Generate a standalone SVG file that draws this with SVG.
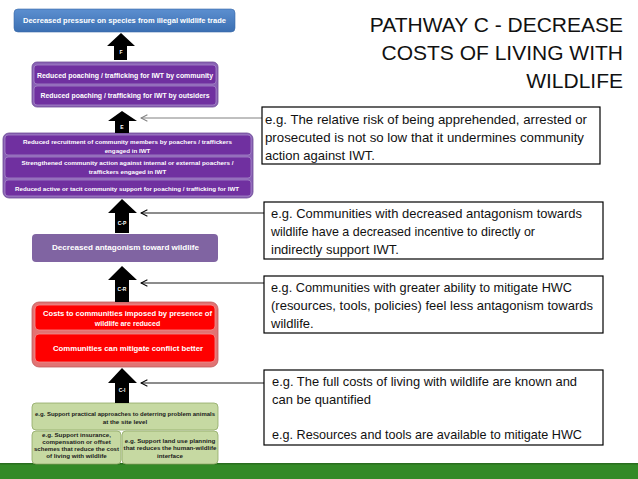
<svg xmlns="http://www.w3.org/2000/svg" width="638" height="479" viewBox="0 0 638 479">
<defs>
<linearGradient id="gBlue" x1="0" y1="0" x2="0" y2="1"><stop offset="0" stop-color="#5C8FD0"/><stop offset="1" stop-color="#3B6FB2"/></linearGradient>
<marker id="chevB" viewBox="0 0 10 10" refX="1" refY="5" markerWidth="8" markerHeight="8" markerUnits="userSpaceOnUse" orient="0"><path d="M9,1 L1,5 L9,9" fill="none" stroke="#000" stroke-width="1.3"/></marker>
<marker id="chevG" viewBox="0 0 10 10" refX="1" refY="5" markerWidth="8" markerHeight="8" markerUnits="userSpaceOnUse" orient="0"><path d="M9,1 L1,5 L9,9" fill="none" stroke="#808080" stroke-width="1.3"/></marker>
</defs>
<style>
.t{font-family:"Liberation Sans",Arial,sans-serif;font-weight:bold;fill:#fff;text-anchor:middle}
.g{font-family:"Liberation Sans",Arial,sans-serif;font-weight:bold;fill:#1a1a1a;text-anchor:middle;font-size:6.2px}
.note{font-family:"Liberation Sans",Arial,sans-serif;font-size:13px;fill:#111}
.nb{fill:#fff;stroke:#000;stroke-width:1.2}
.arr{fill:#000}
.al{font-family:"Liberation Sans",Arial,sans-serif;font-weight:bold;fill:#fff;font-size:5px;text-anchor:middle}
.pin{fill:#7030A0;stroke:#A585C8;stroke-width:0.8}
.rin{fill:#FF0000;stroke:#F39090;stroke-width:0.8}
.grn{fill:#C6D9A2;stroke:#8FA866;stroke-width:0.8}
.title{font-family:"Liberation Sans",Arial,sans-serif;font-size:21px;fill:#111;text-anchor:end}
</style>
<rect x="0" y="0" width="638" height="479" fill="#fff"/>
<rect x="0" y="463" width="638" height="16" fill="#348A27"/>
<rect x="0" y="463" width="638" height="1.5" fill="#2A6E1F"/>

<g id="title">
<text class="title" x="623" y="32">PATHWAY C - DECREASE</text>
<text class="title" x="623" y="60">COSTS OF LIVING WITH</text>
<text class="title" x="623" y="88">WILDLIFE</text>
</g>

<g id="goal">
<rect x="14" y="9" width="221" height="23" rx="4" fill="url(#gBlue)" stroke="#3A6AA8" stroke-width="0.6"/>
<text class="t" x="124.5" y="23" font-size="7.6" textLength="203" lengthAdjust="spacingAndGlyphs">Decreased pressure on species from illegal wildlife trade</text>
</g>

<g id="poaching">
<rect x="32" y="62" width="186" height="45" rx="5" fill="#8A63B5" stroke="#6C4A96" stroke-width="0.8"/>
<rect x="34" y="65" width="182" height="19" rx="3" class="pin"/>
<rect x="34" y="86" width="182" height="19" rx="3" class="pin"/>
<text class="t" x="125" y="77.5" font-size="7" textLength="176" lengthAdjust="spacingAndGlyphs">Reduced poaching  / trafficking for IWT by community</text>
<text class="t" x="125" y="98" font-size="7" textLength="169" lengthAdjust="spacingAndGlyphs">Reduced poaching  / trafficking for IWT by outsiders</text>
</g>

<g id="community">
<rect x="3" y="133" width="250" height="65" rx="6" fill="#8A63B5" stroke="#6C4A96" stroke-width="0.8"/>
<rect x="5" y="135" width="246" height="20" rx="3" class="pin"/>
<rect x="5" y="157" width="246" height="21" rx="3" class="pin"/>
<rect x="5" y="180" width="246" height="16" rx="3" class="pin"/>
<text class="t" x="127.5" y="144" font-size="6.2" textLength="209" lengthAdjust="spacingAndGlyphs">Reduced recruitment of community members by poachers / traffickers</text>
<text class="t" x="127.5" y="153" font-size="6.2">engaged in IWT</text>
<text class="t" x="127.5" y="165" font-size="6.2" textLength="212" lengthAdjust="spacingAndGlyphs">Strengthened community action against internal or external poachers /</text>
<text class="t" x="127.5" y="174" font-size="6.2">traffickers engaged in IWT</text>
<text class="t" x="127" y="190.5" font-size="6.2" textLength="224" lengthAdjust="spacingAndGlyphs">Reduced active or tacit community support for poaching / trafficking for IWT</text>
</g>

<g id="antagonism">
<rect x="32" y="234" width="186" height="28" rx="4" fill="#8064A2"/>
<text class="t" x="125.5" y="250" font-size="7.4" textLength="147" lengthAdjust="spacingAndGlyphs">Decreased antagonism toward wildlife</text>
</g>

<g id="costs">
<rect x="32" y="302" width="186" height="65" rx="7" fill="#E27373" stroke="#C05A5A" stroke-width="0.8"/>
<rect x="35" y="305" width="180" height="25" rx="4" class="rin"/>
<rect x="35" y="334" width="180" height="28" rx="4" class="rin"/>
<text class="t" x="127.5" y="316" font-size="7" textLength="169" lengthAdjust="spacingAndGlyphs">Costs to communities imposed by presence of</text>
<text class="t" x="127.5" y="326" font-size="7">wildlife are reduced</text>
<text class="t" x="128" y="351" font-size="7.2" textLength="150" lengthAdjust="spacingAndGlyphs">Communities can mitigate conflict  better</text>
</g>

<g id="interventions">
<rect x="32" y="403" width="186" height="27" rx="4" class="grn"/>
<rect x="32" y="431" width="89" height="33" rx="4" class="grn"/>
<rect x="122" y="431" width="96" height="33" rx="4" class="grn"/>
<text class="g" x="125" y="415.5" textLength="180" lengthAdjust="spacingAndGlyphs">e.g. Support practical approaches to deterring problem animals</text>
<text class="g" x="125" y="424">at the site level</text>
<text class="g" x="76.5" y="436.5">e.g. Support insurance,</text>
<text class="g" x="76.5" y="443.5">compensation or offset</text>
<text class="g" x="76.5" y="450.5" textLength="85" lengthAdjust="spacingAndGlyphs">schemes that reduce the cost</text>
<text class="g" x="76.5" y="457.5">of living with wildlife</text>
<text class="g" x="170" y="442.5">e.g. Support land use planning</text>
<text class="g" x="170" y="450">that reduces the human-wildlife</text>
<text class="g" x="170" y="457.5">interface</text>
</g>

<g id="arrows">
<polygon class="arr" points="107,46 121,33 135,46 127,46 127,60 114,60 114,46"/>
<text class="al" x="121" y="54">F</text>
<polygon class="arr" points="108,121 122,111 137,121 129,121 129,133 115,133 115,121"/>
<text class="al" x="122" y="129">E</text>
<polygon class="arr" points="108,213 122,199 137,213 129,213 129,233 115,233 115,213"/>
<text class="al" x="122" y="225">C-P</text>
<polygon class="arr" points="108,280 122,266 137,280 129,280 129,302 115,302 115,280"/>
<text class="al" x="122" y="291">C-R</text>
<polygon class="arr" points="108,383 122,368 137,383 129,383 129,403 115,403 115,383"/>
<text class="al" x="122" y="392">C-I</text>
</g>

<g id="connectors" fill="none">
<line x1="264" y1="118" x2="141" y2="118" stroke="#808080" stroke-width="1" marker-end="url(#chevG)"/>
<line x1="264" y1="213" x2="141" y2="213" stroke="#000" stroke-width="0.9" marker-end="url(#chevB)"/>
<line x1="264" y1="283" x2="141" y2="283" stroke="#000" stroke-width="0.9" marker-end="url(#chevB)"/>
<line x1="264" y1="383" x2="141" y2="383" stroke="#000" stroke-width="0.9" marker-end="url(#chevB)"/>
</g>

<g id="note-e">
<rect class="nb" x="262" y="107" width="338" height="57"/>
<text class="note" x="265" y="124" textLength="322" lengthAdjust="spacingAndGlyphs">e.g. The relative  risk of being apprehended, arrested or</text>
<text class="note" x="265" y="142" textLength="319" lengthAdjust="spacingAndGlyphs">prosecuted is not so low that it undermines community</text>
<text class="note" x="265" y="160">action against IWT.</text>
</g>
<g id="note-cp">
<rect class="nb" x="264" y="202" width="339" height="57"/>
<text class="note" x="271" y="218" textLength="311" lengthAdjust="spacingAndGlyphs">e.g. Communities with decreased antagonism towards</text>
<text class="note" x="271" y="236" textLength="264" lengthAdjust="spacingAndGlyphs">wildlife have a decreased  incentive to directly or</text>
<text class="note" x="271" y="254">indirectly support  IWT.</text>
</g>
<g id="note-cr">
<rect class="nb" x="264" y="276" width="339" height="57"/>
<text class="note" x="271" y="292" textLength="301" lengthAdjust="spacingAndGlyphs">e.g. Communities with greater ability to mitigate HWC</text>
<text class="note" x="271" y="310" textLength="322" lengthAdjust="spacingAndGlyphs">(resources,  tools, policies) feel less antagonism towards</text>
<text class="note" x="271" y="328">wildlife.</text>
</g>
<g id="note-ci">
<rect class="nb" x="264" y="370" width="339" height="75"/>
<text class="note" x="272" y="386" textLength="305" lengthAdjust="spacingAndGlyphs">e.g. The full costs of living with wildlife are known and</text>
<text class="note" x="272" y="404">can be quantified</text>
<text class="note" x="272" y="439" textLength="310" lengthAdjust="spacingAndGlyphs">e.g. Resources and tools are available to mitigate HWC</text>
</g>
</svg>
